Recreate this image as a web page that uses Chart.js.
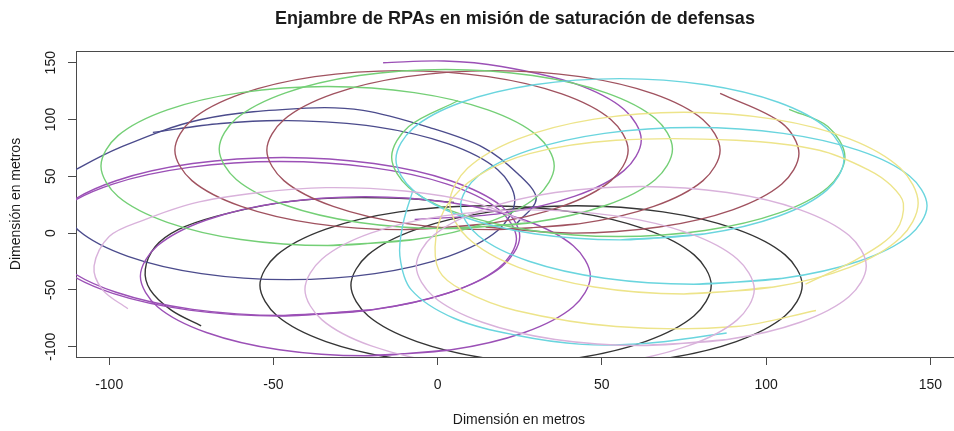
<!DOCTYPE html>
<html>
<head>
<meta charset="utf-8">
<script src="https://cdn.jsdelivr.net/npm/chart.js@4"></script>
<style>
  html, body { margin: 0; padding: 0; background: #ffffff; }
  canvas { display: block; }
</style>
</head>
<body>
<canvas id="swarm" width="954" height="431"></canvas>
<script>
// Flight paths of the RPA swarm, in metres: [x, y] points along each loop.

// green drone
const greenLoop1 = [[-33.5,-11],[-7.1,-5.7],[15.3,9.5],[30.3,32.2],[35.5,59],[30.3,85.8],[15.3,108.5],[-7.1,123.7],[-33.5,129],[-59.9,123.7],[-82.3,108.5],[-97.3,85.8],[-102.5,59],[-97.3,32.2],[-82.3,9.5],[-59.9,-5.7],[-33.5,-11],[-7.1,-5.7]];
const greenLoop2 = [[2.5,4],[28.9,9.3],[51.3,24.5],[66.3,47.2],[71.5,74],[66.3,100.8],[51.3,123.5],[28.9,138.7],[2.5,144],[-23.9,138.7],[-46.3,123.5],[-61.3,100.8],[-66.5,74],[-61.3,47.2],[-46.3,24.5],[-23.9,9.3],[2.5,4],[28.9,9.3]];
const greenLoop3 = [[107,109],[118.8,93.8],[124,67],[118.8,40.2],[103.8,17.5],[81.4,2.3],[55,-3],[28.6,2.3],[6.2,17.5],[-8.8,40.2],[-14,67],[-8.8,93.8],[6.2,116.5]];

// red drone
const redLoop1 = [[-11,3],[15.4,8.3],[37.8,23.5],[52.8,46.2],[58,73],[52.8,99.8],[37.8,122.5],[15.4,137.7],[-11,143],[-37.4,137.7],[-59.8,122.5],[-74.8,99.8],[-80,73],[-74.8,46.2],[-59.8,23.5],[-37.4,8.3],[-11,3],[15.4,8.3]];
const redLoop2 = [[17,3],[43.4,8.3],[65.8,23.5],[80.8,46.2],[86,73],[80.8,99.8],[65.8,122.5],[43.4,137.7],[17,143],[-9.4,137.7],[-31.8,122.5],[-46.8,99.8],[-52,73],[-46.8,46.2],[-31.8,23.5],[-9.4,8.3],[17,3],[43.4,8.3]];
const redLoop3 = [[86,123],[104.8,96.8],[110,70],[104.8,43.2],[89.8,20.5],[67.4,5.3],[41,0],[14.6,5.3]];

// blue drone
const blueLoop1 = [[-86.7,88.7],[-66,96.5],[-45.5,99],[-19.1,93.7],[3.3,78.5],[18.3,55.8],[23.5,29],[18.3,2.2],[3.3,-20.5],[-19.1,-35.7],[-45.5,-41],[-71.9,-35.7],[-94.3,-20.5],[-109.3,2.2],[-114.5,29]];
const blueLoop2 = [[-114,50],[-97,75],[-72,100],[-40,110],[-22.7,108],[-2.6,93],[13.8,75.5],[24.5,52],[30,30],[24,8]];

// purple drone
const purpleLoop1 = [[-16.6,150],[2,151.5],[19.4,146.7],[41.8,131.5],[56.8,108.8],[62,82],[56.8,55.2],[41.8,32.5],[19.4,17.3],[-7,12]];
const purpleLoop2 = [[-47,-72.5],[-19.4,-67.2],[3.9,-52.1],[19.5,-29.6],[25,-3],[19.5,23.6],[3.9,46.1],[-19.4,61.2],[-47,66.5],[-74.6,61.2],[-97.9,46.1],[-113.5,23.6],[-119,-3],[-113.5,-29.6],[-97.9,-52.1],[-74.6,-67.2],[-47,-72.5],[-19.4,-67.2]];
const purpleLoop3 = [[-48,-73],[-20.4,-67.8],[2.9,-53.1],[18.5,-31],[24,-5],[18.5,21],[2.9,43.1],[-20.4,57.8],[-48,63],[-75.6,57.8],[-98.9,43.1],[-114.5,21],[-120,-5],[-114.5,-31],[-98.9,-53.1],[-75.6,-67.8],[-48,-73],[-20.4,-67.8]];
const purpleLoop4 = [[-22,-108],[4.2,-102.7],[26.4,-87.5],[41.3,-64.8],[46.5,-38],[41.3,-11.2],[26.4,11.5],[4.2,26.7],[-22,32],[-48.2,26.7],[-70.4,11.5],[-85.3,-11.2],[-90.5,-38],[-85.3,-64.8],[-70.4,-87.5],[-48.2,-102.7],[-22,-108],[4.2,-102.7]];

// black drone
const blackLoop1 = [[-72,-81.6],[-81,-68],[-87.5,-50],[-89,-32],[-86,-12],[-79,3],[-67.5,14.7],[-49.2,26.2],[-30,31],[-10,30.5],[5,27]];
const blackLoop2 = [[14.6,-116],[40.9,-110.7],[63.2,-95.5],[78.1,-72.8],[83.3,-46],[78.1,-19.2],[63.2,3.5],[40.9,18.7],[14.6,24],[-11.7,18.7],[-34,3.5],[-48.9,-19.2],[-54.1,-46],[-48.9,-72.8],[-34,-95.5],[-11.7,-110.7],[14.6,-116],[40.9,-110.7]];
const blackLoop3 = [[42.3,-116],[68.6,-110.7],[90.9,-95.5],[105.8,-72.8],[111,-46],[105.8,-19.2],[90.9,3.5],[68.6,18.7],[42.3,24],[16,18.7],[-6.3,3.5],[-21.2,-19.2],[-26.4,-46],[-21.2,-72.8],[-6.3,-95.5],[16,-110.7],[42.3,-116],[68.6,-110.7]];

// cyan drone
const cyanLoop1 = [[55.5,-6],[81.6,-0.6],[103.7,14.8],[118.5,37.8],[123.7,65],[118.5,92.2],[103.7,115.2],[81.6,130.6],[55.5,136],[29.4,130.6],[7.3,115.2],[-7.5,92.2],[-12.7,65],[-7.5,37.8],[7.3,14.8],[29.4,-0.6],[55.5,-6],[81.6,-0.6]];
const cyanLoop2 = [[78,-45],[105.2,-39.8],[128.2,-24.8],[143.6,-2.4],[149,24],[143.6,50.4],[128.2,72.8],[105.2,87.8],[78,93],[50.8,87.8],[27.8,72.8],[12.4,50.4],[7,24],[12.4,-2.4],[27.8,-24.8],[50.8,-39.8],[78,-45],[105.2,-39.8]];
const cyanLoop3 = [[-7.5,37.8],[-10.5,8.6],[-11.5,-20],[-8,-50],[5,-75],[24,-90],[44,-98],[64,-97],[88,-88]];

// yellow drone
const yellowLoop1 = [[75,-53.6],[102.3,-47.5],[125.4,-30.2],[140.9,-4.2],[146.3,26.4],[140.9,57],[125.4,83],[102.3,100.3],[75,106.4],[47.7,100.3],[24.6,83],[9.1,57],[3.7,26.4],[9.1,-4.2],[24.6,-30.2],[47.7,-47.5],[75,-53.6],[102.3,-47.5]];
const yellowLoop2 = [[112,-45],[129.2,-20.5],[139.6,2.4],[141.8,26.2],[138,42],[131.4,55.3],[116.2,72.9],[90.9,81.7],[54.3,81.7],[28,70],[12,50],[3,25],[-0.5,-2.9],[0.4,-32.9],[7.7,-50.5],[23.8,-68.2],[54.3,-82.3],[90.9,-82.3],[115.2,-68.2]];

// plum drone
const plumLoop1 = [[-94.3,-66.6],[-102,-50],[-104.6,-29],[-100,-3],[-89.7,11.2],[-74.5,26.2],[-55,35.5],[-34,40],[-10,37],[11,27],[27,10]];
const plumLoop2 = [[62,-99],[88.2,-93.7],[110.4,-78.5],[125.3,-55.8],[130.5,-29],[125.3,-2.2],[110.4,20.5],[88.2,35.7],[62,41],[35.8,35.7],[13.6,20.5],[-1.3,-2.2],[-6.5,-29],[-1.3,-55.8],[13.6,-78.5],[35.8,-93.7],[62,-99],[88.2,-93.7]];
const plumLoop3 = [[28,-119.6],[54.2,-114.3],[76.4,-99.1],[91.2,-76.4],[96.4,-49.6],[91.2,-22.8],[76.4,-0.1],[54.2,15.1],[28,20.4],[1.8,15.1],[-20.4,-0.1],[-35.2,-22.8],[-40.4,-49.6],[-35.2,-76.4],[-20.4,-99.1],[1.8,-114.3],[28,-119.6],[54.2,-114.3]];

// axis ticks
const xTicks = [-100, -50, 0, 50, 100, 150];
const yTicks = [-100, -50, 0, 50, 100, 150];

const FONT = '"Liberation Sans", Arial, Helvetica, sans-serif';
const AXIS_COLOR = '#4a4a4a';
const TEXT_COLOR = '#1a1a1a';

const palette = {
  black:  '#353535',
  red:    '#a0525f',
  green:  '#74cf76',
  blue:   '#4b4b8c',
  cyan:   '#6ad5de',
  purple: '#9b50b6',
  yellow: '#ede48a',
  plum:   '#d9b2db'
};

const loops = [
  [plumLoop1, 'plum'], [plumLoop2, 'plum'], [plumLoop3, 'plum'],
  [yellowLoop1, 'yellow'], [yellowLoop2, 'yellow'],
  [cyanLoop1, 'cyan'], [cyanLoop2, 'cyan'], [cyanLoop3, 'cyan'],
  [greenLoop1, 'green'], [greenLoop2, 'green'], [greenLoop3, 'green'],
  [redLoop1, 'red'], [redLoop2, 'red'], [redLoop3, 'red'],
  [purpleLoop1, 'purple'], [purpleLoop2, 'purple'], [purpleLoop3, 'purple'], [purpleLoop4, 'purple'],
  [blueLoop1, 'blue'], [blueLoop2, 'blue'],
  [blackLoop1, 'black'], [blackLoop2, 'black'], [blackLoop3, 'black']
];

const datasets = loops.map(([pts, key]) => ({
  data: pts.map(([x, y]) => ({ x, y })),
  showLine: true,
  borderColor: palette[key],
  backgroundColor: palette[key],
  borderWidth: 1.4,
  pointRadius: 0,
  pointHoverRadius: 0,
  tension: 0.34,
  fill: false
}));

// frame, rotated y labels and text blocks drawn in R base-graphics style
const baseGraphics = {
  id: 'baseGraphics',
  afterDraw(chart) {
    const { ctx, chartArea: a, scales } = chart;
    ctx.save();
    ctx.strokeStyle = AXIS_COLOR;
    ctx.lineWidth = 1;
    ctx.beginPath();
    ctx.moveTo(a.left, a.top + 0.5);
    ctx.lineTo(a.right, a.top + 0.5);
    ctx.stroke();

    ctx.fillStyle = TEXT_COLOR;
    ctx.textAlign = 'center';
    ctx.textBaseline = 'middle';
    ctx.font = '14px ' + FONT;
    yTicks.forEach(v => {
      const py = scales.y.getPixelForValue(v);
      ctx.save();
      ctx.translate(a.left - 25, py);
      ctx.rotate(-Math.PI / 2);
      ctx.fillText(String(v), 0, 0);
      ctx.restore();
    });

    const midX = (a.left + a.right) / 2;
    const midY = (a.top + a.bottom) / 2;
    ctx.font = 'bold 18px ' + FONT;
    ctx.fillText('Enjambre de RPAs en misión de saturación de defensas', midX, 19);

    ctx.font = '14px ' + FONT;
    ctx.fillText('Dimensión en metros', midX + 4, a.bottom + 63);
    ctx.save();
    ctx.translate(16, midY);
    ctx.rotate(-Math.PI / 2);
    ctx.fillText('Dimensión en metros', 0, 0);
    ctx.restore();
    ctx.restore();
  }
};

new Chart(document.getElementById('swarm'), {
  type: 'scatter',
  data: { datasets },
  options: {
    responsive: false,
    animation: false,
    devicePixelRatio: 1,
    layout: { padding: { top: 51, right: 0, left: 0, bottom: 0 } },
    plugins: { legend: { display: false }, tooltip: { enabled: false }, title: { display: false } },
    scales: {
      x: {
        type: 'linear',
        min: -110.1,
        max: 157.2,
        afterFit(scale) { scale.height = 74; },
        afterBuildTicks(scale) { scale.ticks = xTicks.map(v => ({ value: v })); },
        grid: { drawOnChartArea: false, drawTicks: true, tickLength: 8, color: AXIS_COLOR, tickColor: AXIS_COLOR },
        border: { display: true, color: AXIS_COLOR, width: 1 },
        ticks: { color: TEXT_COLOR, font: { family: FONT, size: 14 }, padding: 12, maxRotation: 0, minRotation: 0 }
      },
      y: {
        type: 'linear',
        min: -109.1,
        max: 160.3,
        afterFit(scale) { scale.width = 76; },
        afterBuildTicks(scale) { scale.ticks = yTicks.map(v => ({ value: v })); },
        grid: { drawOnChartArea: false, drawTicks: true, tickLength: 8, color: AXIS_COLOR, tickColor: AXIS_COLOR },
        border: { display: true, color: AXIS_COLOR, width: 1 },
        ticks: { display: false }
      }
    }
  },
  plugins: [baseGraphics]
});
</script>
</body>
</html>
